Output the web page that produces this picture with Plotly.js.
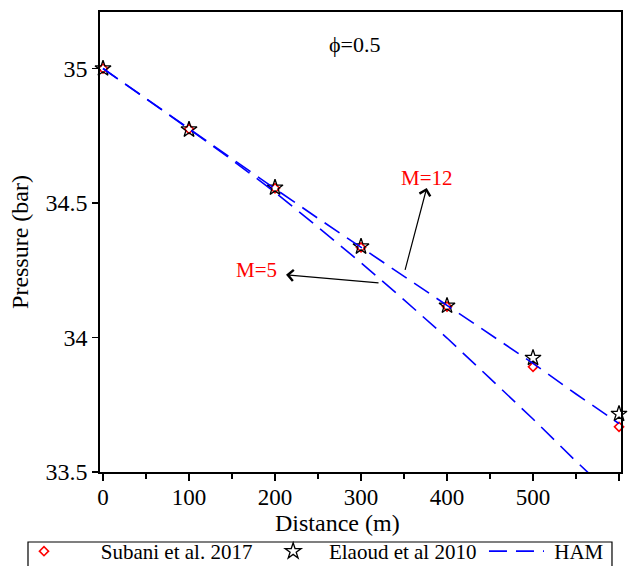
<!DOCTYPE html>
<html>
<head>
<meta charset="utf-8">
<script src="https://cdn.plot.ly/plotly-3.0.1.min.js"></script>
<style>html,body{margin:0;padding:0;background:#fff;}</style>
</head>
<body>
<div id="chart" style="width:632px;height:566px;"></div>
<script>
// Data
const distance = [0, 100, 200, 300, 400, 500, 600];
const subani = [35.0, 34.775, 34.555, 34.335, 34.115, 33.891, 33.668];
const elaoud = [35.0, 34.773, 34.557, 34.338, 34.118, 33.924, 33.716];
const hamX12 = [0, 50, 100, 150, 200, 250, 300, 350, 400, 450, 500, 550, 600];
const hamM12 = [35.0, 34.888, 34.775, 34.664, 34.553, 34.443, 34.335, 34.226, 34.118, 34.01, 33.904, 33.79, 33.68];
const hamX5 = [0, 50, 100, 150, 200, 250, 300, 350, 400, 450, 500, 550, 565];
const hamM5 = [35.0, 34.889, 34.775, 34.66, 34.54, 34.41, 34.278, 34.14, 33.998, 33.848, 33.697, 33.54, 33.495];
const xTicks = [0, 100, 200, 300, 400, 500, 600];
const yTicks = [33.5, 34, 34.5, 35];
const yTickText = ['33.5', '34', '34.5', '35'];
const legendNames = ['Subani et al. 2017', 'Elaoud et al 2010', 'HAM'];

const serif = 'Liberation Serif';
const nb = n => '\u00A0'.repeat(n);

const traces = [
  {x: distance, y: subani, mode: 'markers', type: 'scatter', name: nb(7) + legendNames[0] + nb(3),
   legend: 'legend',
   marker: {symbol: 'diamond-open', size: 7, color: 'red', line: {color: 'red', width: 1.6}},
   cliponaxis: false},
  {x: distance, y: elaoud, mode: 'markers', type: 'scatter', name: nb(3) + legendNames[1],
   legend: 'legend',
   marker: {symbol: 'star-open', size: 12, color: 'black', line: {color: 'black', width: 1.3}},
   cliponaxis: false},
  {x: hamX12, y: hamM12, mode: 'lines', type: 'scatter', name: nb(1) + legendNames[2],
   legend: 'legend2',
   line: {color: '#0000ff', width: 1.6, dash: '18px,9px'}},
  {x: hamX5, y: hamM5, mode: 'lines', type: 'scatter', name: 'HAM M=5', showlegend: false,
   line: {color: '#0000ff', width: 1.6, dash: '18px,9px'}}
];

const arrowCommon = {text: '', showarrow: true, axref: 'x', ayref: 'y', arrowhead: 4,
  arrowsize: 1.8, arrowwidth: 1.2, arrowcolor: 'black', standoff: 0, startstandoff: 0};

const legendCommon = {orientation: 'h', yanchor: 'top', xanchor: 'left', y: -0.1283,
  bgcolor: 'rgba(0,0,0,0)', borderwidth: 0,
  font: {family: serif, size: 21, color: 'black'}, traceorder: 'normal'};

const layout = {
  width: 632, height: 566,
  margin: {l: 100, r: 11, t: 12, b: 94, pad: 0, autoexpand: false},
  paper_bgcolor: '#fff', plot_bgcolor: '#fff',
  font: {family: serif, color: 'black', size: 24},
  showlegend: true,
  legend: Object.assign({}, legendCommon, {x: -0.1459}),
  legend2: Object.assign({}, legendCommon, {x: 0.737, itemwidth: 55}),
  xaxis: {
    range: [-3.5, 602.3], tickvals: xTicks, ticktext: xTicks.map(String),
    ticks: 'outside', ticklen: 7, tickwidth: 1.2, tickcolor: 'black',
    minor: {dtick: 50, tick0: 0, ticks: 'outside', ticklen: 5, tickwidth: 1.2, tickcolor: 'black', showgrid: false},
    showline: true, linecolor: 'black', linewidth: 1.8, mirror: true,
    showgrid: false, zeroline: false, ticklabelstandoff: -3,
    tickfont: {family: serif, size: 23, color: 'black'}
  },
  yaxis: {
    range: [33.5, 35.21], tickvals: yTicks, ticktext: yTickText,
    ticks: 'outside', ticklen: 6, tickwidth: 1.2, tickcolor: 'black',
    showline: true, linecolor: 'black', linewidth: 1.8, mirror: true,
    showgrid: false, zeroline: false,
    tickfont: {family: serif, size: 24, color: 'black'},
    title: {text: 'Pressure (bar)', font: {family: serif, size: 24, color: 'black'}, standoff: 10}
  },
  shapes: [
    {type: 'rect', xref: 'paper', yref: 'paper', x0: -0.1382, x1: 0.9827, y0: -0.1522, y1: -0.32,
     line: {color: 'black', width: 1.2}, fillcolor: 'rgba(0,0,0,0)'}
  ],
  annotations: [
    {x: 0.4568, y: -0.1109, xref: 'paper', yref: 'paper', xanchor: 'center', yanchor: 'middle',
     text: 'Distance (m)', showarrow: false, font: {family: serif, size: 24, color: 'black'}},
    {x: 293, y: 35.089, xref: 'x', yref: 'y', text: 'ϕ=0.5', showarrow: false,
     font: {family: serif, size: 22, color: 'black'}},
    {x: 376.7, y: 34.594, xref: 'x', yref: 'y', text: 'M=12', showarrow: false,
     font: {family: serif, size: 21, color: 'red'}},
    {x: 178, y: 34.252, xref: 'x', yref: 'y', text: 'M=5', showarrow: false,
     font: {family: serif, size: 21, color: 'red'}},
    Object.assign({x: 376.4, y: 34.556, ax: 350.8, ay: 34.246, xref: 'x', yref: 'y'}, arrowCommon),
    Object.assign({x: 212.8, y: 34.233, ax: 322.1, ay: 34.2025, xref: 'x', yref: 'y'}, arrowCommon)
  ]
};

Plotly.newPlot('chart', traces, layout, {displayModeBar: false, staticPlot: true});
</script>
</body>
</html>
